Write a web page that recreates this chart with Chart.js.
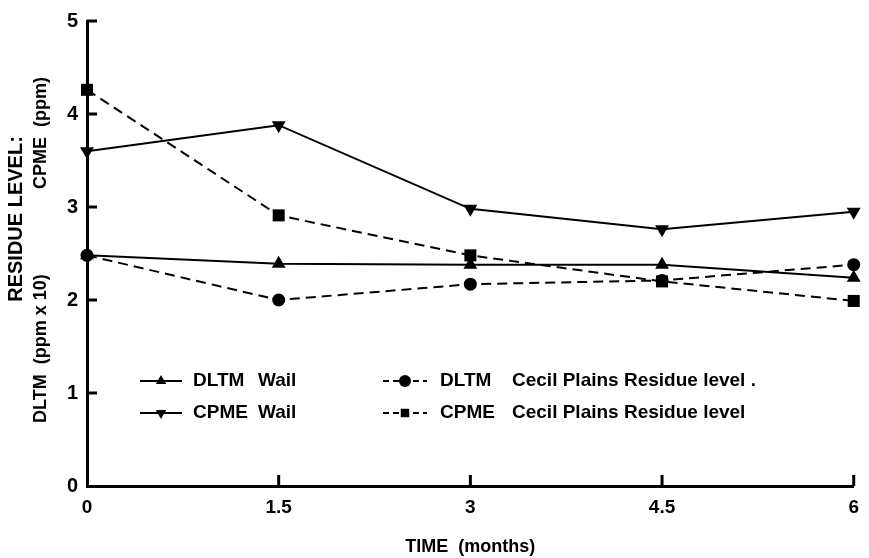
<!DOCTYPE html>
<html>
<head>
<meta charset="utf-8">
<script src="https://cdn.jsdelivr.net/npm/chart.js@4"></script>
<style>
  body { margin: 0; background: #fff; }
  canvas { display: block; }
</style>
</head>
<body>
<canvas id="chart" width="869" height="558"></canvas>
<script>
// time in months
const months = [0, 1.5, 3, 4.5, 6];

// residue levels
const dltmWail = [2.48, 2.39, 2.38, 2.38, 2.24];
const cpmeWail = [3.60, 3.88, 2.98, 2.76, 2.95];
const dltmCecil = [2.48, 2.00, 2.17, 2.21, 2.38];
const cpmeCecil = [4.26, 2.91, 2.48, 2.20, 1.99];

// legend text: compound and site
const legendNames = ['DLTM', 'CPME', 'DLTM', 'CPME'];
const legendSites = ['Wail', 'Wail', 'Cecil Plains Residue level .', 'Cecil Plains Residue level'];

const boldFont = '"Liberation Sans Narrow", "Liberation Sans", Arial, sans-serif';
const plainFont = '"Liberation Sans", Arial, sans-serif';

const toPoints = (ys) => months.map((m, i) => ({ x: m, y: ys[i] }));

function series(label, ys, style, dashed, rotation) {
  return {
    label: label,
    data: toPoints(ys),
    borderColor: '#000',
    backgroundColor: '#000',
    borderWidth: 2,
    borderDash: dashed ? [10, 6] : [],
    pointStyle: style,
    pointRotation: rotation || 0,
    pointRadius: style === 'rect' ? 8.5 : (style === 'circle' ? 6.5 : 8),
    pointBackgroundColor: '#000',
    pointBorderColor: '#000',
    pointBorderWidth: 0,
    tension: 0,
    clip: false,
  };
}

// inward tick marks, like the printed figure
const innerTicks = {
  id: 'innerTicks',
  afterDraw(chart) {
    const ctx = chart.ctx;
    const xs = chart.scales.x;
    const ys = chart.scales.y;
    const area = chart.chartArea;
    ctx.save();
    ctx.strokeStyle = '#000';
    ctx.lineWidth = 3;
    ctx.beginPath();
    ys.ticks.forEach((t) => {
      if (t.value === 0) return;
      const py = ys.getPixelForValue(t.value);
      ctx.moveTo(area.left, py);
      ctx.lineTo(area.left + 10, py);
    });
    xs.ticks.forEach((t) => {
      if (t.value === 0) return;
      const px = xs.getPixelForValue(t.value);
      ctx.moveTo(px, area.bottom);
      ctx.lineTo(px, area.bottom - 11);
    });
    ctx.stroke();
    ctx.restore();
  }
};

// two-line rotated y title
const yTitle = {
  id: 'yTitle',
  afterDraw(chart) {
    const ctx = chart.ctx;
    ctx.save();
    ctx.fillStyle = '#000';
    ctx.textBaseline = 'middle';

    ctx.save();
    ctx.translate(16, 219);
    ctx.rotate(-Math.PI / 2);
    ctx.font = 'bold 20px ' + plainFont;
    ctx.textAlign = 'center';
    ctx.fillText('RESIDUE LEVEL:', 0, 0);
    ctx.restore();

    ctx.save();
    ctx.translate(41, 0);
    ctx.rotate(-Math.PI / 2);
    ctx.font = 'bold 18px ' + plainFont;
    ctx.textAlign = 'left';
    ctx.fillText('DLTM  (ppm x 10)', -423, 0);
    ctx.textAlign = 'right';
    ctx.fillText('CPME  (ppm)', -77, 0);
    ctx.restore();

    ctx.restore();
  }
};

// legend drawn inside the plot, two columns
const insideLegend = {
  id: 'insideLegend',
  afterDraw(chart) {
    const ctx = chart.ctx;
    const cols = [
      { x0: 140, x1: 182, name: 193, site: 258 },
      { x0: 383, x1: 427, name: 440, site: 512 },
    ];
    const rows = [381, 413];
    const order = [[0, 0, 0], [1, 0, 1], [2, 1, 0], [3, 1, 1]];
    ctx.save();
    order.forEach(([di, ci, ri]) => {
      const ds = chart.data.datasets[di];
      const c = cols[ci];
      const y = rows[ri];
      ctx.strokeStyle = '#000';
      ctx.lineWidth = 2;
      ctx.setLineDash(ds.borderDash.length ? [6, 4] : []);
      ctx.beginPath();
      ctx.moveTo(c.x0, y);
      ctx.lineTo(c.x1, y);
      ctx.stroke();
      ctx.setLineDash([]);
      Chart.helpers.drawPoint(ctx, {
        pointStyle: ds.pointStyle,
        rotation: ds.pointRotation,
        radius: ds.pointStyle === 'rect' ? 6 : 6,
        borderWidth: 0,
      }, (c.x0 + c.x1) / 2, y);
      ctx.fillStyle = '#000';
      ctx.textBaseline = 'middle';
      ctx.textAlign = 'left';
      ctx.font = 'bold 19px ' + plainFont;
      ctx.fillText(legendNames[di], c.name, y);
      ctx.font = 'bold 19px ' + boldFont;
      ctx.fillText(legendSites[di], c.site, y);
    });
    ctx.restore();
  }
};

new Chart(document.getElementById('chart'), {
  type: 'line',
  data: {
    datasets: [
      series('DLTM Wail', dltmWail, 'triangle', false, 0),
      series('CPME Wail', cpmeWail, 'triangle', false, 180),
      series('DLTM Cecil Plains Residue level', dltmCecil, 'circle', true, 0),
      series('CPME Cecil Plains Residue level', cpmeCecil, 'rect', true, 0),
    ],
  },
  options: {
    responsive: false,
    animation: false,
    devicePixelRatio: 1,
    layout: { padding: { top: 18, right: 13, left: 0, bottom: 0 } },
    plugins: {
      legend: { display: false },
      tooltip: { enabled: false },
    },
    scales: {
      x: {
        type: 'linear',
        min: 0,
        max: 6,
        ticks: {
          stepSize: 1.5,
          color: '#000',
          padding: 10,
          font: { family: boldFont, size: 19, weight: 'bold' },
        },
        grid: { drawOnChartArea: false, drawTicks: false },
        border: { display: true, color: '#000', width: 3 },
        title: {
          display: true,
          text: 'TIME  (months)',
          color: '#000',
          padding: { top: 0, bottom: 0 },
          font: { family: boldFont, size: 18, weight: 'bold' },
        },
        afterFit(scale) { scale.height = 72; },
      },
      y: {
        min: 0,
        max: 5,
        ticks: {
          stepSize: 1,
          color: '#000',
          padding: 9,
          font: { family: boldFont, size: 20, weight: 'bold' },
        },
        grid: { drawOnChartArea: false, drawTicks: false },
        border: { display: true, color: '#000', width: 3 },
        afterFit(scale) { scale.width = 87; },
      },
    },
  },
  plugins: [innerTicks, yTitle, insideLegend],
});
</script>
</body>
</html>
